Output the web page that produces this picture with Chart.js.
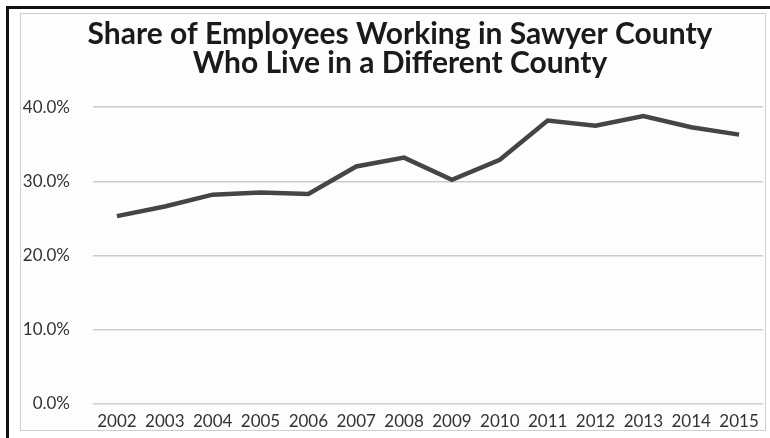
<!DOCTYPE html>
<html>
<head>
<meta charset="utf-8">
<script src="https://cdn.jsdelivr.net/npm/chart.js@4"></script>
<style>
  html, body { margin: 0; padding: 0; background: #fff; overflow: hidden; }
  #frame {
    position: absolute; left: 6px; top: 6px; width: 770px; height: 440px;
    border-top: 3px solid #111; border-left: 3px solid #111;
  }
  #box {
    position: absolute; left: 20px; top: 13px; width: 744px; height: 416px;
    border: 1px solid #cfcfcf; background: #fdfdfd;
  }
  canvas { position: absolute; left: 21px; top: 14px; display: block; }
</style>
</head>
<body>
<div id="frame"></div>
<div id="box"></div>
<canvas id="share_chart" width="758" height="426"></canvas>
<script>
// years along the bottom
const years = ['2002', '2003', '2004', '2005', '2006', '2007', '2008',
               '2009', '2010', '2011', '2012', '2013', '2014', '2015'];
// share of employees living in another county, percent
const shareDifferentCounty = [25.3, 26.6, 28.2, 28.5, 28.3, 32.0, 33.2,
                              30.2, 32.9, 38.2, 37.5, 38.8, 37.3, 36.3];
const titleLines = ['Share of Employees Working in Sawyer County',
                    'Who Live in a Different County'];

const ctx = document.getElementById('share_chart').getContext('2d');

new Chart(ctx, {
    type: 'line',
    data: {
        labels: years,
        datasets: [{
            data: shareDifferentCounty,
            borderColor: '#454545',
            borderWidth: 4.5,
            pointRadius: 0,
            tension: 0,
            fill: false
        }]
    },
    options: {
        responsive: false,
        animation: false,
        layout: { padding: 0 },
        plugins: {
            legend: { display: false },
            tooltip: { enabled: false },
            title: {
                display: true,
                text: titleLines,
                color: '#1a1a1a',
                font: { family: 'Lato', size: 30, weight: 'bold', lineHeight: 0.97 },
                padding: { top: 6, bottom: 29 }
            }
        },
        scales: {
            x: {
                offset: true,
                grid: { display: false, drawTicks: false },
                border: { display: false },
                ticks: {
                    color: '#333',
                    padding: 8,
                    maxRotation: 0,
                    autoSkip: false,
                    font: { family: 'Lato', size: 17 }
                }
            },
            y: {
                min: 0,
                max: 40,
                ticks: {
                    stepSize: 10,
                    color: '#333',
                    padding: 23,
                    font: { family: 'Lato', size: 17 },
                    callback: (v) => v.toFixed(1) + '%'
                },
                grid: { color: '#cccccc', lineWidth: 1.5, drawTicks: false },
                border: { display: false },
                afterFit: (scale) => { scale.width = 72; }
            },
            // empty right-hand strip so the title stays centred on the page
            spacer: {
                type: 'linear',
                axis: 'y',
                position: 'right',
                ticks: { display: false },
                grid: { display: false, drawTicks: false },
                border: { display: false },
                afterFit: (scale) => { scale.width = 16; }
            }
        }
    }
});
</script>
</body>
</html>
